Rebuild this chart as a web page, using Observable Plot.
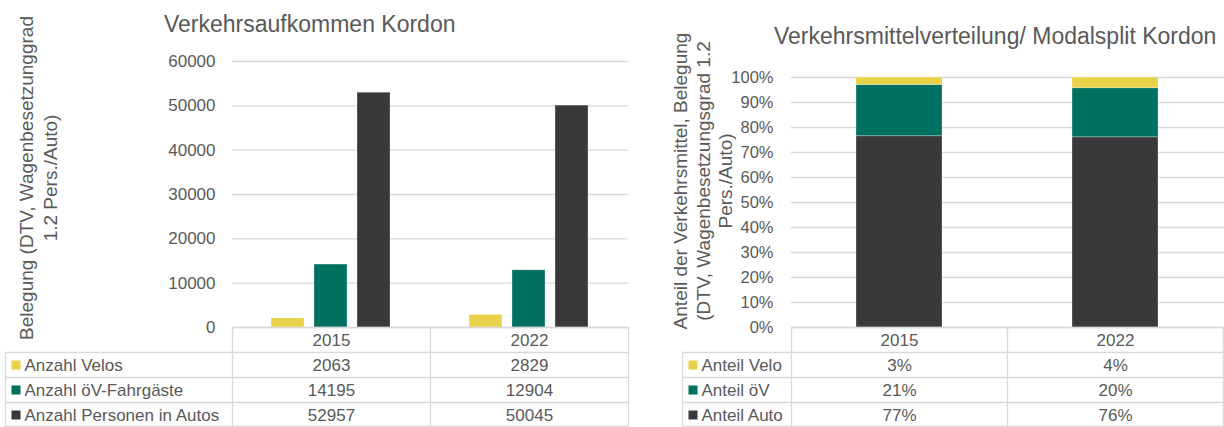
<!DOCTYPE html>
<html><head><meta charset="utf-8">
<script src="https://cdn.jsdelivr.net/npm/d3@7"></script>
<script src="https://cdn.jsdelivr.net/npm/@observablehq/plot@0.6"></script>
<style>
body{margin:0;background:#fff;font-family:"Liberation Sans",Arial,sans-serif;}
#wrap{position:relative;width:1224px;height:427px;overflow:hidden;background:#fff}
#left{position:absolute;left:0;top:0}
#right{position:absolute;left:624px;top:0}
</style></head><body>
<div id="wrap"><div id="left"></div><div id="right"></div></div>
<script>
// ---- data ----
const years = ["2015", "2022"];
const seriesLeft = ["Anzahl Velos", "Anzahl öV-Fahrgäste", "Anzahl Personen in Autos"];
const velos = [2063, 2829];
const oev = [14195, 12904];
const autos = [52957, 50045];
const seriesRight = ["Anteil Velo", "Anteil öV", "Anteil Auto"];
const shareVelo = ["3%", "4%"];
const shareOev = ["21%", "20%"];
const shareAuto = ["77%", "76%"];
const yTicksLeft = [0, 10000, 20000, 30000, 40000, 50000, 60000];
const yTicksRight = [0, 0.1, 0.2, 0.3, 0.4, 0.5, 0.6, 0.7, 0.8, 0.9, 1];
const titleLeft = "Verkehrsaufkommen Kordon";
const titleRight = "Verkehrsmittelverteilung/ Modalsplit Kordon";
const yLabelLeft = ["Belegung (DTV, Wagenbesetzunggrad", "1.2 Pers./Auto)"];
const yLabelRight = ["Anteil der Verkehrsmittel, Belegung", "(DTV, Wagenbesetzungsgrad 1.2", "Pers./Auto)"];
const colors = ["#e9d24a", "#007060", "#39393b"];

const FONT = '"Liberation Sans", Arial, sans-serif';
const TXT = "#595959";
const GRID = "#d9d9d9";

// ---- left chart ----
const leftData = years.flatMap((y, i) => [
  {year: y, series: seriesLeft[0], value: velos[i]},
  {year: y, series: seriesLeft[1], value: oev[i]},
  {year: y, series: seriesLeft[2], value: autos[i]}
]);

const left = Plot.plot({
  width: 640, height: 427,
  marginTop: 61, marginBottom: 100, marginLeft: 231, marginRight: 12,
  style: {fontFamily: FONT, fontSize: "17px", color: TXT, background: "transparent"},
  fx: {domain: years, padding: 0, axis: null},
  x: {domain: seriesLeft, paddingInner: 0.227, paddingOuter: 0.875, axis: null},
  y: {domain: [0, 60000], axis: null},
  color: {domain: seriesLeft, range: colors},
  marks: [
    Plot.gridY(yTicksLeft, {stroke: GRID, strokeOpacity: 1, strokeWidth: 1.3}),
    Plot.axisY(yTicksLeft, {tickSize: 0, tickPadding: 17, tickFormat: d => String(d), label: null, fontSize: 17, fill: TXT}),
    Plot.barY(leftData, {fx: "year", x: "series", y: "value", fill: "series", stroke: "#ffffff", strokeOpacity: 0.35, strokeWidth: 0.8})
  ]
});
document.getElementById("left").appendChild(left);

// ---- right chart ----
const rightData = years.flatMap((y, i) => [
  {year: y, series: seriesRight[2], value: autos[i]},
  {year: y, series: seriesRight[1], value: oev[i]},
  {year: y, series: seriesRight[0], value: velos[i]}
]);

const right = Plot.plot({
  width: 600, height: 427,
  marginTop: 77, marginBottom: 100, marginLeft: 167, marginRight: 0,
  style: {fontFamily: FONT, fontSize: "17px", color: TXT, background: "transparent"},
  x: {domain: years, paddingInner: 0.6, paddingOuter: 0.3, axis: null},
  y: {domain: [0, 1], axis: null},
  color: {domain: seriesRight, range: colors},
  marks: [
    Plot.gridY(yTicksRight, {stroke: GRID, strokeOpacity: 1, strokeWidth: 1.3}),
    Plot.axisY(yTicksRight, {tickSize: 0, tickPadding: 18, tickFormat: d => Math.round(d * 100) + "%", label: null, fontSize: 16.5, fill: TXT}),
    Plot.barY(rightData, Plot.stackY({offset: "normalize", x: "year", y: "value", fill: "series", stroke: "#ffffff", strokeOpacity: 0.35, strokeWidth: 0.8}))
  ]
});
document.getElementById("right").appendChild(right);

// ---- titles, y labels, data tables (positions from Plot's scales) ----
function decorate(plot, opt) {
  const svg = d3.select(plot);
  const yS = plot.scale("y");
  const top = Math.round(yS.apply(0)) + 0.5;
  const rh = 25;
  const cols = opt.cols;
  const x0 = cols[0][0], x1 = cols[cols.length - 1][1];
  const g = svg.append("g").attr("stroke", GRID).attr("stroke-width", 1.3);
  g.append("line").attr("x1", x0).attr("x2", x1).attr("y1", top).attr("y2", top);
  for (let r = 1; r <= 4; r++) {
    const y = Math.min(top + r * rh, 426.5);
    g.append("line").attr("x1", opt.rowLeft).attr("x2", x1).attr("y1", y).attr("y2", y);
  }
  cols.forEach(([a, b], i) => {
    g.append("line").attr("x1", a).attr("x2", a).attr("y1", top).attr("y2", 427);
    if (i === cols.length - 1) g.append("line").attr("x1", b).attr("x2", b).attr("y1", top).attr("y2", 427);
  });
  g.append("line").attr("x1", opt.rowLeft).attr("x2", opt.rowLeft).attr("y1", top + rh).attr("y2", 427);

  const t = svg.append("g").attr("fill", TXT).attr("font-family", FONT).attr("font-size", 17);
  years.forEach((yr, i) => {
    const cx = (cols[i][0] + cols[i][1]) / 2;
    t.append("text").attr("x", cx).attr("y", top + rh / 2).attr("dy", "0.35em").attr("text-anchor", "middle").text(yr);
    opt.rows.forEach((row, r) => {
      t.append("text").attr("x", cx).attr("y", top + rh * (r + 1) + rh / 2).attr("dy", "0.35em")
        .attr("text-anchor", "middle").text(row.values[i]);
    });
  });
  opt.rows.forEach((row, r) => {
    const cy = top + rh * (r + 1) + rh / 2;
    svg.append("rect").attr("x", opt.rowLeft + 6).attr("y", cy - 4.5).attr("width", 9).attr("height", 9).attr("fill", row.color);
    t.append("text").attr("x", opt.rowLeft + 19).attr("y", cy).attr("dy", "0.35em").attr("text-anchor", "start").text(row.label);
  });

  // title
  svg.append("text").attr("x", opt.titleX).attr("y", opt.titleY).attr("fill", TXT).attr("text-anchor", "start")
    .attr("font-family", FONT).attr("font-size", 23).text(opt.title);

  // y label (multi-line, rotated)
  const yl = svg.append("text").attr("transform", `translate(${opt.ylX},${opt.ylY}) rotate(-90)`)
    .attr("fill", TXT).attr("font-family", FONT).attr("font-size", 19).attr("text-anchor", "middle");
  opt.ylabel.forEach((line, i) => {
    yl.append("tspan").attr("x", 0).attr("y", i * opt.ylGap).text(line);
  });
}

// left columns from fx band scale
const fxS = left.scale("fx");
const colsLeft = years.map(y => [fxS.apply(y), fxS.apply(y) + fxS.bandwidth].map(v => Math.round(v) + 0.5));
decorate(left, {
  cols: colsLeft, rowLeft: 5.5,
  rows: [
    {label: seriesLeft[0], color: colors[0], values: velos},
    {label: seriesLeft[1], color: colors[1], values: oev},
    {label: seriesLeft[2], color: colors[2], values: autos}
  ],
  title: titleLeft, titleX: 164, titleY: 32,
  ylabel: yLabelLeft, ylX: 33, ylY: 178, ylGap: 24
});

// right columns from x band scale
const xS = right.scale("x");
const stepR = xS.apply(years[1]) - xS.apply(years[0]);
const colsRight = years.map(y => {
  const c = xS.apply(y) + xS.bandwidth / 2;
  return [c - stepR / 2, c + stepR / 2].map(v => Math.round(v) + 0.5);
});
decorate(right, {
  cols: colsRight, rowLeft: 58.5,
  rows: [
    {label: seriesRight[0], color: colors[0], values: shareVelo},
    {label: seriesRight[1], color: colors[1], values: shareOev},
    {label: seriesRight[2], color: colors[2], values: shareAuto}
  ],
  title: titleRight, titleX: 150, titleY: 44,
  ylabel: yLabelRight, ylX: 63, ylY: 181, ylGap: 22.5
});
</script>
</body></html>
